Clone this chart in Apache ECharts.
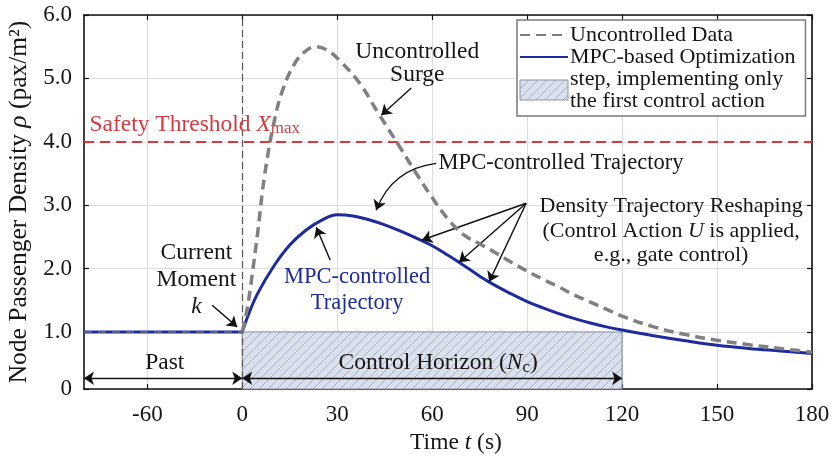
<!DOCTYPE html>
<html>
<head>
<meta charset="utf-8">
<script src="https://cdn.jsdelivr.net/npm/echarts@6/dist/echarts.min.js"></script>
<style>
  html, body { margin: 0; padding: 0; background: #fff; }
  #chart { width: 832px; height: 457px; }
</style>
</head>
<body>
<div id="chart"></div>
<script>
// ---- Time axis: the past (t < 0) is drawn at half scale ----
const PAST_SCALE = 0.5;
const toAxis = t => (t < 0 ? t * PAST_SCALE : t);
const fromAxis = u => (u < 0 ? u / PAST_SCALE : u);

// ---- Axis ranges and tick labels ----
const timeMin = -100;
const timeMax = 180;
const densityMin = 0.1;
const densityMax = 6;
const timeTicks = [-60, 0, 30, 60, 90, 120, 150, 180];
const densityTicks = [densityMin, 1, 2, 3, 4, 5, 6];

// ---- Past (before the current moment k) ----
const pastTime = [-100, 0];
const pastDensity = [1.0, 1.0];

// ---- Uncontrolled surge ----
const uncontrolledTime = [0, 1, 2, 3, 5, 7, 10, 13, 17, 20, 23, 27, 31, 37, 43, 50, 55, 60, 65, 70, 75, 80, 85, 90, 95, 100, 105, 110, 115, 120, 130, 140, 150, 160, 170, 180];
const uncontrolledDensity = [1.0, 1.22, 1.5, 1.85, 2.62, 3.45, 4.3, 4.85, 5.27, 5.43, 5.5, 5.44, 5.27, 4.93, 4.45, 3.9, 3.5, 3.12, 2.78, 2.53, 2.39, 2.25, 2.1, 1.96, 1.83, 1.71, 1.58, 1.47, 1.36, 1.25, 1.08, 0.96, 0.87, 0.8, 0.74, 0.68];

// ---- MPC-controlled trajectory ----
const mpcTime = [0, 2, 5, 10, 15, 20, 25, 30, 35, 40, 45, 50, 55, 60, 65, 70, 75, 80, 85, 90, 95, 100, 105, 110, 115, 120, 130, 140, 150, 160, 170, 180];
const mpcDensity = [1.0, 1.28, 1.62, 2.04, 2.37, 2.6, 2.76, 2.85, 2.83, 2.77, 2.69, 2.59, 2.48, 2.36, 2.21, 2.05, 1.88, 1.73, 1.6, 1.48, 1.38, 1.29, 1.21, 1.14, 1.08, 1.03, 0.94, 0.86, 0.79, 0.74, 0.7, 0.66];

// ---- Control horizon and safety threshold ----
const horizonStart = 0;
const horizonEnd = 120;
const horizonLevel = 1.0;
const safetyThreshold = 4.0;

const SERIF = "'Liberation Serif','Times New Roman',serif";
const INK = '#161616';
const BLUE = '#1d2b9e';
const GRAY = '#808080';
const RED = '#d63a40';
const STEP_NAME = 'step, implementing only\nthe first control action';

const pairs = (xs, ys) => xs.map((t, i) => [toAxis(t), ys[i]]);

// diagonal hatch used for the control-horizon block
function makeHatch() {
  const s = 9;
  const c = document.createElement('canvas');
  c.width = s; c.height = s;
  const g = c.getContext('2d');
  g.fillStyle = '#dae1ed';
  g.fillRect(0, 0, s, s);
  g.strokeStyle = '#a7b0c1';
  g.lineWidth = 1;
  g.beginPath();
  g.moveTo(0, s); g.lineTo(s, 0);
  g.moveTo(-1, 1); g.lineTo(1, -1);
  g.moveTo(s - 1, s + 1); g.lineTo(s + 1, s - 1);
  g.stroke();
  return { image: c, repeat: 'repeat' };
}
const hatch = makeHatch();

const f = (size, extra) => Object.assign({ fontFamily: SERIF, fontSize: size, color: INK }, extra || {});
const rich = {
  s: f(23.5, { lineHeight: 27 }),
  si: f(23.5, { fontStyle: 'italic', lineHeight: 27 }),
  ssub: f(17, { verticalAlign: 'bottom', lineHeight: 22 }),
  u: f(23.5, { lineHeight: 23 }),
  m: f(22.5, { lineHeight: 24.5 }),
  d: f(22, { lineHeight: 24.5 }),
  di: f(22, { fontStyle: 'italic', lineHeight: 24.5 }),
  b: f(22.5, { color: BLUE, lineHeight: 26 }),
  ra: f(23.5, { color: RED }),
  ri: f(23.5, { color: RED, fontStyle: 'italic' }),
  rsub: f(17, { color: RED, verticalAlign: 'bottom', lineHeight: 22 }),
  xa: f(23.5, { lineHeight: 26 }),
  xi: f(23.5, { fontStyle: 'italic', lineHeight: 26 }),
  ya: f(25.5, { lineHeight: 28 }),
  yi: f(25.5, { fontStyle: 'italic', lineHeight: 28 })
};

function note(t, v, text, extra) {
  return {
    coord: [toAxis(t), v],
    label: Object.assign({ show: true, position: 'inside', formatter: text, rich: rich, align: 'center', verticalAlign: 'middle' }, extra || {})
  };
}
function arrowLine(from, to, both) {
  return [
    { coord: [toAxis(from[0]), from[1]], symbol: both ? 'arrow' : 'none' },
    { coord: [toAxis(to[0]), to[1]], symbol: 'arrow' }
  ];
}

const axisCommon = {
  type: 'value',
  axisLine: { show: true, onZero: false, lineStyle: { color: '#111', width: 1.6 } },
  axisTick: { show: true, inside: true, length: 5, lineStyle: { color: '#111', width: 1.2 } }
};
const arrowStyle = { color: '#111', width: 1.4, type: 'solid' };

const option = {
  animation: false,
  backgroundColor: '#fff',
  grid: { left: 84, right: 20, top: 15, bottom: 68, containLabel: false, outerBoundsMode: 'none' },
  xAxis: [
    Object.assign({}, axisCommon, {
      position: 'bottom',
      min: toAxis(timeMin), max: toAxis(timeMax),
      axisTick: Object.assign({}, axisCommon.axisTick, { customValues: timeTicks.map(toAxis) }),
      axisLabel: {
        customValues: timeTicks.map(toAxis), margin: 14,
        formatter: v => String(Math.round(fromAxis(v))),
        fontFamily: SERIF, fontSize: 23, color: INK
      },
      splitLine: { show: true, lineStyle: { color: '#dcdcdc', width: 1 } },
      name: '{xa|Time }{xi|t}{xa| (s)}',
      nameLocation: 'middle', nameGap: 39,
      nameTextStyle: { rich: rich, padding: [0, 0, 0, 16] }
    }),
    Object.assign({}, axisCommon, {
      position: 'top',
      min: toAxis(timeMin), max: toAxis(timeMax),
      axisTick: Object.assign({}, axisCommon.axisTick, { customValues: timeTicks.map(toAxis) }),
      axisLabel: { show: false },
      splitLine: { show: false }
    })
  ],
  yAxis: [
    Object.assign({}, axisCommon, {
      position: 'left',
      min: densityMin, max: densityMax,
      axisTick: Object.assign({}, axisCommon.axisTick, { customValues: densityTicks }),
      axisLabel: {
        customValues: densityTicks, margin: 12,
        formatter: v => (v < 0.5 ? '0' : v.toFixed(1)),
        fontFamily: SERIF, fontSize: 23, color: INK
      },
      splitLine: { show: true, lineStyle: { color: '#dcdcdc', width: 1 } },
      name: '{ya|Node Passenger Density }{yi|ρ}{ya| (pax/m²)}',
      nameLocation: 'middle', nameGap: 47, nameRotate: 90,
      nameTextStyle: { rich: rich }
    }),
    Object.assign({}, axisCommon, {
      position: 'right',
      min: densityMin, max: densityMax,
      axisTick: Object.assign({}, axisCommon.axisTick, { customValues: densityTicks }),
      axisLabel: { show: false },
      splitLine: { show: false }
    })
  ],
  legend: {
    orient: 'vertical',
    left: 517, top: 20,
    padding: [4, 10, 4, 2],
    itemGap: 0,
    itemWidth: 48, itemHeight: 20,
    backgroundColor: '#fff',
    borderColor: '#7a7a7a', borderWidth: 1.5,
    selectedMode: false,
    textStyle: { fontFamily: SERIF, fontSize: 22, lineHeight: 22, color: INK, padding: [0, 0, 0, -3] },
    data: [
      { name: 'Uncontrolled Data', itemStyle: { opacity: 0 } },
      { name: 'MPC-based Optimization', itemStyle: { opacity: 0 } },
      { name: STEP_NAME, icon: 'rect', itemStyle: { color: hatch, borderColor: '#8a94a6', borderWidth: 1 } }
    ]
  },
  series: [
    {
      name: STEP_NAME,
      type: 'line',
      data: [],
      z: 1,
      markArea: {
        silent: true,
        itemStyle: { color: hatch, borderColor: '#7f899b', borderWidth: 1 },
        data: [[{ coord: [toAxis(horizonStart), densityMin] }, { coord: [toAxis(horizonEnd), horizonLevel] }]]
      }
    },
    {
      name: 'reference lines',
      type: 'line',
      data: [],
      z: 2,
      markLine: {
        silent: true,
        symbol: ['none', 'none'],
        label: { show: false },
        data: [
          { xAxis: toAxis(0), lineStyle: { color: '#555', width: 1.2, type: [7, 4] } },
          { yAxis: safetyThreshold, lineStyle: { color: RED, width: 2.2, type: [10, 6] } }
        ]
      }
    },
    {
      name: 'MPC-based Optimization',
      type: 'line',
      data: pairs(mpcTime, mpcDensity),
      smooth: 0.4,
      symbol: 'none',
      z: 4,
      lineStyle: { color: BLUE, width: 3 },
      itemStyle: { color: BLUE }
    },
    {
      name: 'MPC past',
      type: 'line',
      data: pairs(pastTime, pastDensity),
      symbol: 'none',
      z: 4,
      lineStyle: { color: BLUE, width: 3 }
    },
    {
      name: 'Uncontrolled Data',
      type: 'line',
      data: pairs(uncontrolledTime, uncontrolledDensity),
      smooth: 0.4,
      symbol: 'none',
      z: 5,
      lineStyle: { color: GRAY, width: 3.5, type: [10, 6] },
      itemStyle: { color: GRAY }
    },
    {
      name: 'Uncontrolled past',
      type: 'line',
      data: pairs(pastTime, pastDensity),
      symbol: 'none',
      z: 5,
      lineStyle: { color: GRAY, width: 2, type: [8, 6], opacity: 0.6 }
    },
    {
      name: 'curved callout',
      type: 'lines',
      coordinateSystem: 'cartesian2d',
      silent: true,
      z: 8,
      symbol: ['none', 'arrow'],
      symbolSize: 10,
      lineStyle: { color: '#111', width: 1.4, curveness: -0.3, opacity: 1 },
      data: [{ coords: [[toAxis(61.3), 3.66], [toAxis(42.3), 2.92]] }]
    },
    {
      name: 'annotations',
      type: 'line',
      data: [],
      z: 8,
      markLine: {
        silent: true,
        symbol: ['none', 'arrow'],
        symbolSize: 10,
        label: { show: false },
        lineStyle: arrowStyle,
        data: [
          arrowLine([53.4, 4.85], [43.9, 4.42]),
          arrowLine([89.7, 3.03], [56.8, 2.45]),
          arrowLine([89.7, 3.03], [68.5, 2.1]),
          arrowLine([89.7, 3.03], [78, 1.79]),
          arrowLine([27.8, 2.13], [23.4, 2.65]),
          arrowLine([-19, 1.42], [-3.2, 1.08]),
          arrowLine([-100, 0.27], [0, 0.27], true),
          arrowLine([0, 0.27], [120, 0.27], true)
        ]
      },
      markPoint: {
        silent: true,
        symbol: 'circle',
        symbolSize: 1,
        itemStyle: { color: 'rgba(0,0,0,0)' },
        data: [
          note(-96.6, 4.26, '{ra|Safety Threshold }{ri|X}{rsub|max}', { align: 'left' }),
          note(55.3, 5.24, '{u|Uncontrolled}\n{u|Surge}'),
          note(100.7, 3.66, '{m|MPC-controlled Trajectory}'),
          note(135.5, 2.59, '{d|Density Trajectory Reshaping}\n{d|(Control Action }{di|U}{d| is applied,}\n{d|e.g., gate control)}'),
          note(36.3, 1.66, '{b|MPC-controlled}\n{b|Trajectory}'),
          note(-29, 1.82, '{s|Current}\n{s|Moment}\n{si|k}'),
          note(-49, 0.51, '{s|Past}'),
          note(61.9, 0.51, '{s|Control Horizon (}{si|N}{ssub|c}{s|)}')
        ]
      }
    }
  ]
};

const chart = echarts.init(document.getElementById('chart'));
chart.setOption(option);
</script>
</body>
</html>
